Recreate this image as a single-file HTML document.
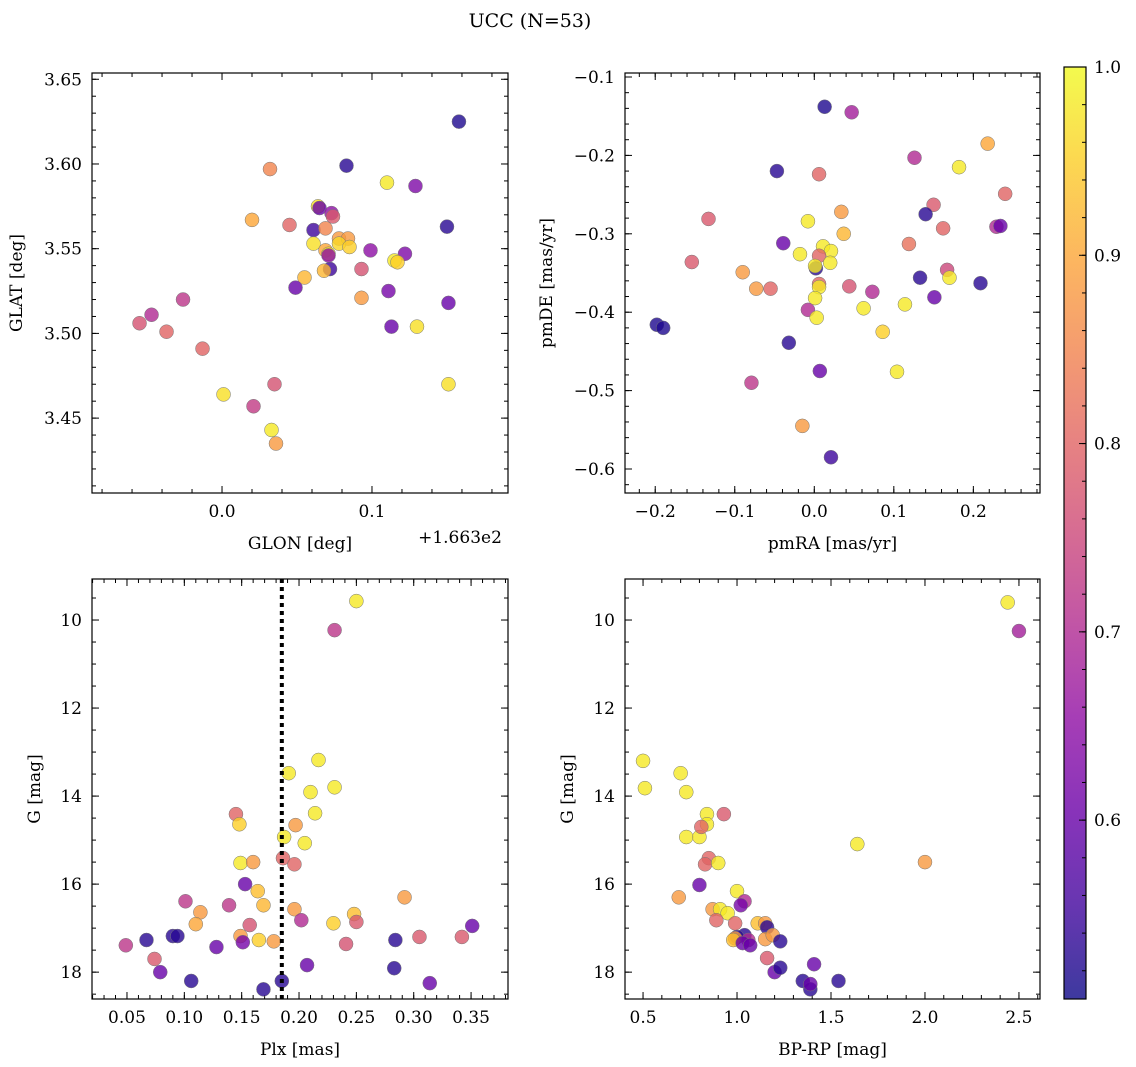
<!DOCTYPE html>
<html><head><meta charset="utf-8">
<style>
html,body{margin:0;padding:0;background:#fff;}
svg{display:block;font-family:"DejaVu Serif","Liberation Serif",serif;}
</style></head>
<body>
<svg id="fig" width="1136" height="1067" xmlns="http://www.w3.org/2000/svg">
<text x="530" y="27" text-anchor="middle" font-size="19">UCC (N=53)</text>
</svg>
<script>
// ---- data ----
const tlGlon=[.158,.032,.083,.110,.129,.020,.045,.064,.065,.073,.074,.061,.069,.078,.084,.061,.078,.085,.069,.071,.071,.099,.150,.122,.115,.117,.072,.068,.055,.049,.093,.093,.111,.113,.151,.130,-.026,-.055,-.047,-.037,-.013,.001,.035,.021,.151,.033,.036];
const tlGlat=[3.625,3.597,3.599,3.589,3.587,3.567,3.564,3.575,3.574,3.571,3.569,3.561,3.562,3.556,3.556,3.553,3.553,3.551,3.549,3.547,3.546,3.549,3.563,3.547,3.543,3.542,3.538,3.537,3.533,3.527,3.538,3.521,3.525,3.504,3.518,3.504,3.520,3.506,3.511,3.501,3.491,3.464,3.470,3.457,3.470,3.443,3.435];
const tlProb=[.52,.85,.53,.98,.63,.9,.8,.97,.6,.65,.78,.55,.85,.88,.88,.97,.96,.95,.9,.97,.65,.65,.53,.63,.98,.95,.55,.92,.92,.6,.77,.88,.62,.6,.6,.97,.72,.77,.7,.8,.8,.97,.77,.73,.97,.98,.88];
const trPmra=[.013,.047,-.047,.126,.182,.218,.006,.240,-.133,.150,.140,.034,-.008,.229,.234,.162,.037,-.039,.011,.119,.021,-.018,.006,-.154,.002,.001,.020,-.090,.167,.170,.133,.006,.209,.006,-.073,-.055,.044,.073,.001,.151,.114,.062,-.008,.003,-.198,-.190,.086,-.032,.104,.007,-.079,-.015,.021];
const trPmde=[-.138,-.145,-.220,-.203,-.215,-.185,-.224,-.249,-.281,-.263,-.275,-.272,-.284,-.291,-.290,-.293,-.300,-.312,-.316,-.313,-.322,-.326,-.328,-.336,-.344,-.341,-.337,-.349,-.346,-.356,-.356,-.364,-.363,-.368,-.370,-.370,-.367,-.374,-.382,-.381,-.390,-.395,-.397,-.407,-.416,-.420,-.425,-.439,-.476,-.475,-.490,-.545,-.585];
const trProb=[.52,.68,.53,.7,.98,.9,.8,.8,.78,.78,.53,.88,.98,.7,.6,.8,.92,.6,.98,.82,.98,.98,.8,.78,.53,.98,.98,.88,.75,.98,.53,.8,.53,.98,.88,.8,.77,.7,.98,.6,.98,.98,.7,.98,.52,.52,.95,.53,.98,.6,.72,.88,.55];
const blPlx=[.250,.231,.217,.191,.231,.210,.145,.214,.148,.197,.187,.205,.149,.160,.186,.196,.153,.164,.292,.101,.139,.114,.169,.196,.202,.248,.250,.230,.110,.157,.351,.149,.305,.342,.090,.094,.067,.151,.165,.178,.241,.049,.128,.284,.074,.079,.207,.283,.106,.185,.314,.169];
const blG=[9.57,10.23,13.18,13.48,13.80,13.91,14.41,14.39,14.64,14.66,14.93,15.07,15.52,15.50,15.41,15.55,16.0,16.16,16.30,16.39,16.48,16.64,16.48,16.57,16.82,16.68,16.86,16.89,16.91,16.93,16.95,17.18,17.20,17.20,17.18,17.18,17.27,17.32,17.27,17.30,17.36,17.39,17.43,17.27,17.70,18.0,17.84,17.91,18.20,18.20,18.25,18.39];
const blProb=[.98,.72,.98,.98,.98,.98,.8,.98,.95,.88,.98,.98,.98,.88,.8,.8,.6,.93,.88,.72,.72,.88,.92,.88,.7,.93,.78,.95,.9,.77,.6,.88,.78,.78,.53,.53,.53,.62,.95,.88,.77,.72,.6,.53,.78,.6,.6,.53,.53,.53,.6,.53];
const plxCut=0.185;
const brBprp=[2.44,2.50,0.50,0.51,0.70,0.73,0.73,0.80,0.84,0.84,0.81,0.93,0.85,0.83,0.90,1.64,2.0,0.80,1.0,0.69,1.04,1.02,0.87,0.91,0.95,0.89,0.99,1.11,1.15,1.16,1.04,1.0,0.99,0.98,1.15,1.19,1.06,1.23,1.03,1.07,1.16,1.2,1.23,1.41,1.35,1.39,1.39,1.54];
const brG=[9.6,10.25,13.2,13.82,13.48,13.91,14.93,14.93,14.41,14.64,14.7,14.41,15.41,15.55,15.52,15.09,15.50,16.02,16.16,16.30,16.39,16.48,16.57,16.57,16.66,16.82,16.89,16.89,16.89,16.98,17.16,17.2,17.23,17.27,17.25,17.16,17.27,17.3,17.34,17.39,17.68,18.0,17.9,17.82,18.2,18.39,18.27,18.2];
const brProb=[.98,.68,.98,.98,.98,.98,.98,.98,.98,.98,.8,.78,.8,.8,.98,.98,.88,.6,.98,.88,.7,.62,.88,.98,.98,.8,.8,.93,.88,.53,.53,.53,.88,.93,.88,.88,.7,.53,.6,.6,.78,.6,.53,.6,.53,.53,.6,.53];
const cbTicks=[0.6,0.7,0.8,0.9,1.0];
const vmin=0.505, vmax=1.0;

const NS='http://www.w3.org/2000/svg';
const svg=document.getElementById('fig');
function mk(tag,attrs,parent){const e=document.createElementNS(NS,tag);for(const k in attrs)e.setAttribute(k,attrs[k]);(parent||svg).appendChild(e);return e;}
const stops=['#0d0887','#41049d','#6a00a8','#8f0da4','#b12a90','#cc4778','#e16462','#f2844b','#fca636','#fcce25','#f0f921'];
function hex(c){return [1,3,5].map(i=>parseInt(c.substr(i,2),16));}
function plasma(t){t=Math.max(0,Math.min(1,t));const f=t*10,i=Math.min(9,Math.floor(f)),u=f-i;const a=hex(stops[i]),b=hex(stops[i+1]);return 'rgb('+a.map((v,k)=>Math.round(v+(b[k]-v)*u)).join(',')+')';}
function cmap(v){return plasma((v-vmin)/(vmax-vmin));}
function fmt(v,d){const s=Math.abs(v).toFixed(d);return (v<-1e-9?'−':'')+s;}
const FS=17;

function panel(name,px,py,pw,ph,xr,yr,xmaj,xmin,xd,ymaj,ymin,yd,xlab,ylab,inv,ylx){
  const g=mk('g',{});
  
  
  const sx=v=>px+(v-xr[0])/(xr[1]-xr[0])*pw;
  const sy=inv?(v=>py+(v-yr[0])/(yr[1]-yr[0])*ph):(v=>py+ph-(v-yr[0])/(yr[1]-yr[0])*ph);
  const ticks=(lo,hi,st)=>{const a=[];for(let k=Math.ceil(lo/st-1e-6);k*st<=hi+1e-9;k++)a.push(k*st);return a;};
  const tg=mk('g',{stroke:'#000','stroke-width':1},g);
  ticks(xr[0],xr[1],xmin).forEach(v=>{const x=sx(v);mk('line',{x1:x,x2:x,y1:py+ph,y2:py+ph-4},tg);mk('line',{x1:x,x2:x,y1:py,y2:py+4},tg);});
  ticks(xr[0],xr[1],xmaj).forEach(v=>{const x=sx(v);mk('line',{x1:x,x2:x,y1:py+ph,y2:py+ph-7},tg);mk('line',{x1:x,x2:x,y1:py,y2:py+7},tg);
    const t=mk('text',{x:x,y:py+ph+24,'text-anchor':'middle','font-size':FS,stroke:'none'},g);t.textContent=fmt(v,xd);
    
    });
  const ylo=Math.min(yr[0],yr[1]),yhi=Math.max(yr[0],yr[1]);
  ticks(ylo,yhi,ymin).forEach(v=>{const y=sy(v);mk('line',{x1:px,x2:px+4,y1:y,y2:y},tg);mk('line',{x1:px+pw,x2:px+pw-4,y1:y,y2:y},tg);});
  ticks(ylo,yhi,ymaj).forEach(v=>{const y=sy(v);mk('line',{x1:px,x2:px+7,y1:y,y2:y},tg);mk('line',{x1:px+pw,x2:px+pw-7,y1:y,y2:y},tg);
    const t=mk('text',{x:px-10,y:y+6,'text-anchor':'end','font-size':FS},g);t.textContent=fmt(v,yd);
    
    });
  const xl=mk('text',{x:px+pw/2,y:py+ph+56,'text-anchor':'middle','font-size':FS},g);xl.textContent=xlab;
  
  
  const yl=mk('text',{x:0,y:0,'text-anchor':'middle','font-size':FS,transform:`translate(${ylx},${py+ph/2}) rotate(-90)`},g);yl.textContent=ylab;
  
  
  return {g,sx,sy,frame:()=>{const r=mk('rect',{x:px,y:py,width:pw,height:ph,fill:'none',stroke:'#000','stroke-width':1.2},g);}};
}
function scatter(p,xs,ys,cs){
  const n=Math.min(xs.length,ys.length,cs.length);
  for(let i=0;i<n;i++){
    const c=mk('circle',{cx:p.sx(xs[i]),cy:p.sy(ys[i]),r:7,fill:cmap(cs[i]),'fill-opacity':0.8,stroke:'#777','stroke-width':0.5},p.g);
    
    
  }
}
const p1=panel('glon-glat-panel',92,73,416,420,[-0.0867,0.1907],[3.4058,3.6537],0.1,0.02,1,0.05,0.01,2,'GLON [deg]','GLAT [deg]',false,22);
scatter(p1,tlGlon,tlGlat,tlProb);p1.frame();
const off=mk('text',{x:460,y:543,'text-anchor':'middle','font-size':FS});off.textContent='+1.663e2';


const p2=panel('proper-motion-panel',625,73,415,420,[-0.238,0.2838],[-0.6306,-0.0949],0.1,0.02,1,0.1,0.02,1,'pmRA [mas/yr]','pmDE [mas/yr]',false,552);
scatter(p2,trPmra,trPmde,trProb);p2.frame();
const p3=panel('plx-g-panel',92,579,416,420,[0.0195,0.3822],[9.068,18.61],0.05,0.01,2,2,0.5,0,'Plx [mas]','G [mag]',true,40);
scatter(p3,blPlx,blG,blProb);
const vl=mk('line',{x1:p3.sx(plxCut),x2:p3.sx(plxCut),y1:579,y2:999,stroke:'#000','stroke-width':4,'stroke-dasharray':'4 4'},p3.g);


p3.frame();
const p4=panel('cmd-panel',625,579,415,420,[0.404,2.612],[9.068,18.61],0.5,0.1,1,2,0.5,0,'BP-RP [mag]','G [mag]',true,573);
scatter(p4,brBprp,brG,brProb);p4.frame();

// colorbar
const cb=mk('g',{});


const defs=mk('defs',{},cb);
const lg=mk('linearGradient',{id:'cbg',x1:0,y1:1,x2:0,y2:0},defs);
for(let i=0;i<=20;i++){mk('stop',{offset:i/20,'stop-color':plasma(i/20),'stop-opacity':0.8},lg);}
const cby0=67,cby1=999;
const cbs=v=>cby1-(v-vmin)/(vmax-vmin)*(cby1-cby0);
mk('rect',{x:1064,y:cby0,width:22,height:cby1-cby0,fill:'url(#cbg)',stroke:'#000','stroke-width':1.2},cb);
for(let v=0.52;v<=1.0001;v+=0.02){mk('line',{x1:1086,x2:1082,y1:cbs(v),y2:cbs(v),stroke:'#000'},cb);}
cbTicks.forEach(v=>{const y=cbs(v);mk('line',{x1:1086,x2:1079,y1:y,y2:y,stroke:'#000'},cb);
  const t=mk('text',{x:1094,y:y+6,'font-size':FS},cb);t.textContent=v.toFixed(1);
  
  });
</script>
</body></html>
